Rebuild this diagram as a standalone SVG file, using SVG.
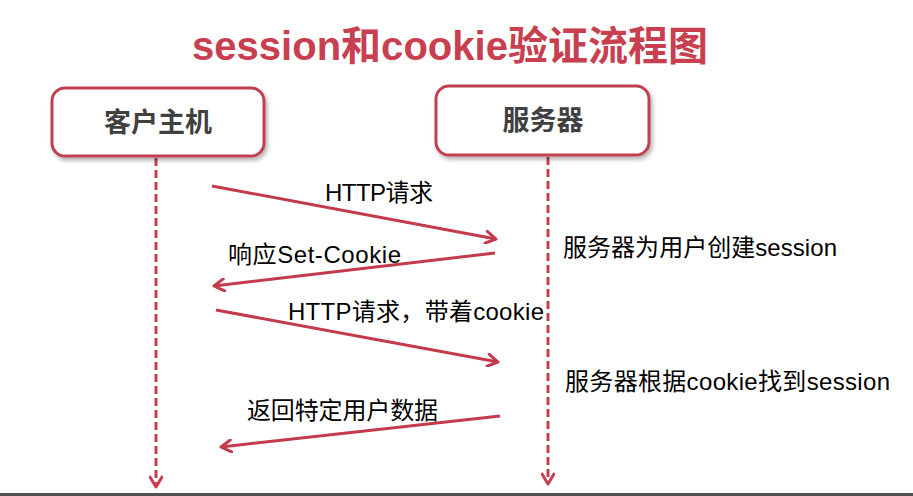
<svg xmlns="http://www.w3.org/2000/svg" width="913" height="496" viewBox="0 0 913 496">
<style>
.title{font-family:"Liberation Sans","Noto Sans CJK SC",sans-serif;font-weight:bold;font-size:40px;fill:#c8404f}
.nodebox{fill:#ffffff;stroke:#c0404f;stroke-width:3}
.nodelabel{font-family:"Liberation Sans","Noto Sans CJK SC",sans-serif;font-weight:bold;font-size:27px;fill:#404040}
.life{stroke:#c8404f;stroke-width:3;stroke-dasharray:8 4;fill:none}
.msg{stroke:#c33a4c;stroke-width:3;fill:none}
.lbl{font-family:"Liberation Sans","Noto Sans CJK SC",sans-serif;font-size:24px;fill:#000}
</style>
<defs>
<filter id="sh" x="-10%" y="-10%" width="130%" height="140%">
<feDropShadow dx="2" dy="3" stdDeviation="2" flood-color="#000" flood-opacity="0.3"/>
</filter>
<marker id="open" viewBox="0 0 14 14" refX="12" refY="7" markerWidth="14" markerHeight="14" markerUnits="userSpaceOnUse" orient="auto">
<path d="M2,1 L12,7 L2,13" fill="none" stroke="#c33a4c" stroke-width="3" stroke-linecap="round" stroke-linejoin="round"/>
</marker>
<marker id="down" viewBox="0 0 14 14" refX="12" refY="7" markerWidth="14" markerHeight="14" markerUnits="userSpaceOnUse" orient="auto">
<path d="M2,1 L12,7 L2,13" fill="none" stroke="#c8404f" stroke-width="3" stroke-linecap="round" stroke-linejoin="round"/>
</marker>
</defs>
<rect width="913" height="496" fill="#ffffff"/>
<text class="title" x="192" y="60" textLength="516" lengthAdjust="spacing">session和cookie验证流程图</text>

<g id="connectors">
<line class="life" x1="156" y1="158" x2="156" y2="487" marker-end="url(#down)"/>
<line class="life" x1="548" y1="157" x2="548" y2="484" marker-end="url(#down)"/>
<line class="msg" x1="212" y1="186" x2="496" y2="239" marker-end="url(#open)"/>
<line class="msg" x1="495" y1="253" x2="214" y2="286" marker-end="url(#open)"/>
<line class="msg" x1="216" y1="310" x2="498" y2="362" marker-end="url(#open)"/>
<line class="msg" x1="500" y1="416" x2="221" y2="447" marker-end="url(#open)"/>
</g>

<g id="client">
<rect class="nodebox" x="52" y="88" width="212" height="68" rx="13" filter="url(#sh)"/>
<text class="nodelabel" x="158" y="132" text-anchor="middle">客户主机</text>
</g>
<g id="server">
<rect class="nodebox" x="436" y="86" width="213" height="69" rx="13" filter="url(#sh)"/>
<text class="nodelabel" x="543" y="130" text-anchor="middle">服务器</text>
</g>

<g id="labels">
<text class="lbl" x="325" y="201" textLength="108" lengthAdjust="spacing">HTTP请求</text>
<text class="lbl" x="228" y="263" textLength="173" lengthAdjust="spacing">响应Set-Cookie</text>
<text class="lbl" x="288" y="320" textLength="256" lengthAdjust="spacing">HTTP请求，带着cookie</text>
<text class="lbl" x="247" y="419" textLength="191" lengthAdjust="spacing">返回特定用户数据</text>
<text class="lbl" x="563" y="256" textLength="274" lengthAdjust="spacing">服务器为用户创建session</text>
<text class="lbl" x="565" y="390" textLength="325" lengthAdjust="spacing">服务器根据cookie找到session</text>
</g>

<rect x="0" y="493" width="913" height="3" fill="#505050"/>
</svg>
